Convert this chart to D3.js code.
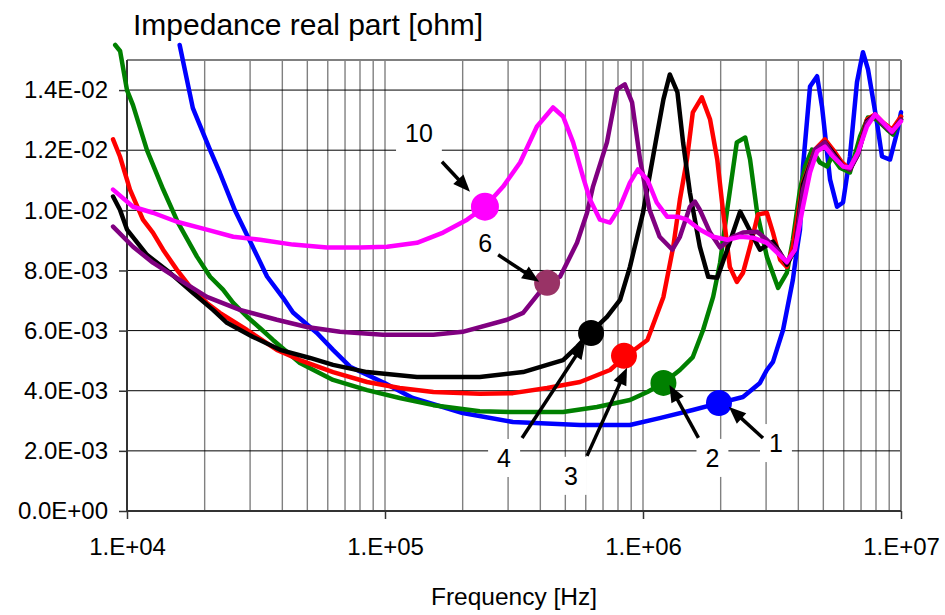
<!DOCTYPE html>
<html>
<head>
<meta charset="utf-8">
<script src="https://cdn.jsdelivr.net/npm/d3@7"></script>
<style>
  body { margin: 0; background: #fff; }
  svg { display: block; }
  text { font-family: "Liberation Sans", Arial, sans-serif; fill: #000; }
</style>
</head>
<body>
<svg id="chart" width="945" height="615"></svg>
<script>
// frequency [Hz], real part of impedance [ohm]
const curve1 = [
  [1.6e4, 15.5e-3], [1.8e4, 13.4e-3], [2.1e4, 12.0e-3], [2.29e4, 11.25e-3], [2.62e4, 10.0e-3],
  [2.95e4, 9.1e-3], [3.49e4, 7.8e-3], [4.02e4, 7.1e-3], [4.4e4, 6.6e-3], [5.45e4, 5.92e-3],
  [6.29e4, 5.36e-3], [7.32e4, 4.8e-3], [1.0e5, 4.25e-3], [1.28e5, 3.76e-3], [2.0e5, 3.26e-3],
  [3.13e5, 2.96e-3], [5.7e5, 2.86e-3], [8.9e5, 2.86e-3], [1.16e6, 3.09e-3], [1.56e6, 3.36e-3],
  [1.97e6, 3.59e-3], [2.44e6, 3.79e-3], [2.84e6, 4.26e-3], [3.02e6, 4.69e-3], [3.19e6, 4.96e-3],
  [3.49e6, 6.02e-3], [3.81e6, 7.69e-3], [3.95e6, 8.69e-3], [4.06e6, 9.36e-3], [4.17e6, 11.46e-3],
  [4.44e6, 14.12e-3], [4.73e6, 14.46e-3], [4.94e6, 13.46e-3], [5.31e6, 11.02e-3], [5.65e6, 10.12e-3],
  [5.96e6, 10.26e-3], [6.34e6, 11.79e-3], [6.75e6, 14.26e-3], [7.12e6, 15.26e-3], [7.45e6, 14.69e-3],
  [8.07e6, 12.92e-3], [8.44e6, 11.79e-3], [9.07e6, 11.69e-3], [9.65e6, 12.59e-3], [1.0e7, 13.26e-3]
];

const curve2 = [
  [9.0e3, 15.5e-3], [9.4e3, 15.3e-3], [1.0e4, 14.0e-3], [1.055e4, 13.5e-3], [1.195e4, 12.0e-3],
  [1.38e4, 10.7e-3], [1.576e4, 9.59e-3], [1.867e4, 8.46e-3], [2.1e4, 7.79e-3], [2.356e4, 7.36e-3],
  [2.58e4, 6.92e-3], [2.92e4, 6.46e-3], [3.34e4, 6.02e-3], [3.68e4, 5.69e-3], [4.68e4, 4.92e-3],
  [6.29e4, 4.36e-3], [8.52e4, 4.02e-3], [1.14e5, 3.76e-3], [1.54e5, 3.52e-3], [2.33e5, 3.32e-3],
  [3.13e5, 3.29e-3], [4.9e5, 3.29e-3], [6.63e5, 3.46e-3], [8.9e5, 3.69e-3], [1.04e6, 3.96e-3],
  [1.2e6, 4.26e-3], [1.39e6, 4.69e-3], [1.56e6, 5.12e-3], [1.71e6, 6.02e-3], [1.87e6, 7.12e-3],
  [1.99e6, 8.26e-3], [2.12e6, 10.02e-3], [2.31e6, 12.26e-3], [2.49e6, 12.42e-3], [2.6e6, 11.69e-3],
  [2.77e6, 9.92e-3], [3.02e6, 8.46e-3], [3.34e6, 7.42e-3], [3.61e6, 7.92e-3], [3.81e6, 9.02e-3],
  [4.06e6, 10.69e-3], [4.25e6, 11.46e-3], [4.52e6, 12.02e-3], [4.85e6, 11.59e-3], [5.17e6, 11.46e-3],
  [5.4e6, 11.79e-3], [5.8e6, 11.42e-3], [6.34e6, 11.26e-3], [6.94e6, 12.46e-3], [7.45e6, 13.09e-3],
  [8.07e6, 13.02e-3], [8.83e6, 12.69e-3], [9.31e6, 12.52e-3], [1.0e7, 13.12e-3]
];

const curve3 = [
  [8.83e3, 12.36e-3], [9.39e3, 11.79e-3], [1.027e4, 10.69e-3], [1.153e4, 9.69e-3], [1.26e4, 9.26e-3],
  [1.38e4, 8.69e-3], [1.562e4, 8.02e-3], [1.754e4, 7.46e-3], [2.04e4, 6.92e-3], [2.29e4, 6.59e-3],
  [2.92e4, 6.02e-3], [3.81e4, 5.36e-3], [4.68e4, 5.02e-3], [6.29e4, 4.62e-3], [8.52e4, 4.29e-3],
  [1.14e5, 4.09e-3], [1.54e5, 3.96e-3], [2.33e5, 3.9e-3], [3.13e5, 3.92e-3], [4.25e5, 4.09e-3],
  [5.7e5, 4.29e-3], [7.45e5, 4.69e-3], [8.5e5, 5.12e-3], [1.04e6, 5.69e-3], [1.2e6, 7.12e-3],
  [1.31e6, 8.79e-3], [1.39e6, 10.36e-3], [1.48e6, 11.69e-3], [1.56e6, 13.26e-3], [1.69e6, 13.76e-3],
  [1.82e6, 13.02e-3], [1.94e6, 11.69e-3], [2.04e6, 10.02e-3], [2.17e6, 8.12e-3], [2.31e6, 7.62e-3],
  [2.44e6, 7.92e-3], [2.6e6, 8.79e-3], [2.79e6, 9.86e-3], [3.02e6, 9.92e-3], [3.19e6, 9.26e-3],
  [3.4e6, 8.36e-3], [3.61e6, 8.12e-3], [3.81e6, 8.79e-3], [4.17e6, 10.92e-3], [4.64e6, 12.02e-3],
  [5.07e6, 12.36e-3], [5.45e6, 12.02e-3], [5.91e6, 11.59e-3], [6.34e6, 11.36e-3], [6.81e6, 11.92e-3],
  [7.38e6, 13.02e-3], [7.93e6, 13.19e-3], [8.52e6, 12.92e-3], [9.23e6, 12.69e-3], [1.0e7, 13.12e-3]
];

const curve4 = [
  [8.83e3, 10.46e-3], [9.39e3, 10.02e-3], [1.0e4, 9.36e-3], [1.195e4, 8.52e-3], [1.468e4, 7.92e-3],
  [1.8e4, 7.26e-3], [2.154e4, 6.69e-3], [2.44e4, 6.26e-3], [3.08e4, 5.79e-3], [3.92e4, 5.36e-3],
  [5.12e4, 5.09e-3], [6.29e4, 4.86e-3], [8.52e4, 4.62e-3], [1.33e5, 4.46e-3], [2.33e5, 4.46e-3],
  [3.43e5, 4.62e-3], [4.25e5, 4.86e-3], [4.9e5, 5.02e-3], [5.55e5, 5.46e-3], [6.23e5, 5.92e-3],
  [7.25e5, 6.46e-3], [8.15e5, 7.02e-3], [8.9e5, 8.12e-3], [1.0e6, 9.92e-3], [1.13e6, 12.46e-3],
  [1.2e6, 13.69e-3], [1.27e6, 14.52e-3], [1.36e6, 13.92e-3], [1.43e6, 12.26e-3], [1.52e6, 10.59e-3],
  [1.66e6, 8.79e-3], [1.79e6, 7.79e-3], [1.94e6, 7.76e-3], [2.12e6, 8.69e-3], [2.38e6, 9.96e-3],
  [2.67e6, 9.12e-3], [2.84e6, 8.69e-3], [3.19e6, 8.96e-3], [3.4e6, 8.59e-3], [3.61e6, 8.19e-3],
  [3.88e6, 8.69e-3], [4.17e6, 10.86e-3], [4.64e6, 11.96e-3], [5.07e6, 12.26e-3], [5.45e6, 11.92e-3],
  [5.96e6, 11.46e-3], [6.34e6, 11.36e-3], [6.81e6, 11.86e-3], [7.38e6, 12.96e-3], [7.93e6, 13.16e-3],
  [8.52e6, 12.86e-3], [9.23e6, 12.59e-3], [1.0e7, 13.02e-3]
];

const curve6 = [
  [8.83e3, 9.46e-3], [1.055e4, 8.79e-3], [1.26e4, 8.26e-3], [1.6e4, 7.69e-3], [2.04e4, 7.12e-3],
  [2.74e4, 6.69e-3], [3.81e4, 6.36e-3], [4.98e4, 6.12e-3], [6.69e4, 5.96e-3], [9.82e4, 5.86e-3],
  [1.54e5, 5.86e-3], [2.0e5, 5.96e-3], [2.97e5, 6.36e-3], [3.43e5, 6.59e-3], [4.25e5, 7.59e-3],
  [4.77e5, 7.79e-3], [5.55e5, 8.92e-3], [6.07e5, 9.92e-3], [6.4e5, 10.79e-3], [7.25e5, 12.26e-3],
  [7.93e5, 14.02e-3], [8.5e5, 14.19e-3], [9.07e5, 13.59e-3], [9.74e5, 11.69e-3], [1.06e6, 10.02e-3],
  [1.16e6, 9.12e-3], [1.3e6, 8.69e-3], [1.39e6, 9.12e-3], [1.52e6, 10.12e-3], [1.59e6, 10.29e-3],
  [1.66e6, 10.02e-3], [1.82e6, 9.26e-3], [1.99e6, 8.76e-3], [2.23e6, 9.12e-3], [2.44e6, 9.26e-3],
  [2.77e6, 9.29e-3], [3.02e6, 9.02e-3], [3.31e6, 8.69e-3], [3.61e6, 8.26e-3], [3.88e6, 8.69e-3],
  [4.17e6, 10.69e-3], [4.64e6, 12.02e-3], [5.07e6, 12.26e-3], [5.45e6, 11.86e-3], [5.96e6, 11.46e-3],
  [6.34e6, 11.36e-3], [6.81e6, 11.86e-3], [7.38e6, 12.92e-3], [7.93e6, 13.16e-3], [8.52e6, 12.86e-3],
  [9.23e6, 12.59e-3], [1.0e7, 13.02e-3]
];

const curve10 = [
  [8.83e3, 10.69e-3], [1.055e4, 10.12e-3], [1.26e4, 9.92e-3], [1.56e4, 9.62e-3], [2.04e4, 9.36e-3],
  [2.58e4, 9.12e-3], [3.28e4, 9.02e-3], [4.4e4, 8.86e-3], [5.96e4, 8.76e-3], [8.0e4, 8.76e-3],
  [1.02e5, 8.79e-3], [1.33e5, 8.92e-3], [1.68e5, 9.26e-3], [2.08e5, 9.69e-3], [2.44e5, 10.12e-3],
  [2.87e5, 10.79e-3], [3.34e5, 11.59e-3], [3.88e5, 12.79e-3], [4.48e5, 13.42e-3], [4.9e5, 13.12e-3],
  [5.36e5, 12.26e-3], [5.85e5, 11.12e-3], [6.23e5, 10.36e-3], [6.81e5, 9.69e-3], [7.45e5, 9.59e-3],
  [8.15e5, 10.12e-3], [8.9e5, 10.92e-3], [9.56e5, 11.36e-3], [1.04e6, 11.02e-3], [1.13e6, 10.26e-3],
  [1.24e6, 9.79e-3], [1.36e6, 9.79e-3], [1.48e6, 9.69e-3], [1.66e6, 9.36e-3], [1.87e6, 9.12e-3],
  [2.12e6, 9.02e-3], [2.38e6, 9.12e-3], [2.67e6, 9.09e-3], [3.02e6, 8.92e-3], [3.31e6, 8.59e-3],
  [3.61e6, 8.29e-3], [3.88e6, 8.69e-3], [4.17e6, 10.12e-3], [4.44e6, 11.26e-3], [4.73e6, 11.96e-3],
  [5.07e6, 12.12e-3], [5.45e6, 11.79e-3], [5.96e6, 11.46e-3], [6.34e6, 11.42e-3], [6.81e6, 11.92e-3],
  [7.38e6, 12.79e-3], [7.93e6, 13.19e-3], [8.52e6, 12.92e-3], [9.23e6, 12.62e-3], [1.0e7, 12.96e-3]
];

const seriesNames = ['1', '2', '3', '4', '6', '10'];
const seriesData = [curve1, curve2, curve3, curve4, curve6, curve10];
const seriesColors = ['#0000ff', '#008000', '#ff0000', '#000000', '#800080', '#ff00ff'];

// highlighted point on each curve
const markerFreq = [1.97e6, 1.2e6, 8.44e5, 6.29e5, 4.25e5, 2.44e5];
const markerValue = [3.59e-3, 4.26e-3, 5.16e-3, 5.92e-3, 7.59e-3, 10.12e-3];
const markerColors = ['#0000ff', '#008000', '#ff0000', '#000000', '#993366', '#ff00ff'];

const xTickValues = [1e4, 1e5, 1e6, 1e7];
const yTickValues = [0, 2e-3, 4e-3, 6e-3, 8e-3, 10e-3, 12e-3, 14e-3];

// label / arrow placement relative to the marker, in pixels
const callouts = [
  { label: [57, 49], from: [44, 35], to: [10, 4] },
  { label: [49, 84], from: [35, 55], to: [6, 2] },
  { label: [-53, 129], from: [-37, 100], to: [3, 12] },
  { label: [-87, 134], from: [-69, 105], to: [-6, 9] },
  { label: [-62, -31], from: [-49, -28], to: [-8, -1] },
  { label: [-66, -65], from: [-43, -45], to: [-15, -15] }
];

const svg = d3.select('#chart');

const x = d3.scaleLog().domain([1e4, 1e7]).range([127, 901]);
const y = d3.scaleLinear().domain([0, 0.015]).range([511, 60]);

const fmtY = (v) => {
  const [m, e] = v.toExponential(1).split('e');
  const n = Math.abs(+e);
  return m + 'E' + (+e < 0 ? '-' : '+') + (n < 10 ? '0' : '') + n;
};
const fmtX = (v) => '1.E+' + String(Math.round(Math.log10(v))).padStart(2, '0');

// vertical grid (log minor lines)
const vGrid = [];
[1e4, 1e5, 1e6].forEach((dec) => {
  for (let k = 1; k <= 9; k++) if (dec * k > 1e4) vGrid.push(dec * k);
});
svg.append('g')
  .selectAll('line')
  .data(vGrid)
  .join('line')
  .attr('x1', (d) => x(d)).attr('x2', (d) => x(d))
  .attr('y1', y(0.015)).attr('y2', y(0))
  .attr('stroke', '#808080')
  .attr('stroke-width', 1.4);

// horizontal grid
svg.append('g')
  .selectAll('line')
  .data(yTickValues.filter((d) => d > 0))
  .join('line')
  .attr('x1', x(1e4)).attr('x2', x(1e7))
  .attr('y1', (d) => y(d)).attr('y2', (d) => y(d))
  .attr('stroke', '#000')
  .attr('stroke-width', 1);

// frame: top and right in grey
svg.append('line').attr('x1', x(1e4)).attr('x2', x(1e7)).attr('y1', y(0.015)).attr('y2', y(0.015))
  .attr('stroke', '#808080').attr('stroke-width', 2);
svg.append('line').attr('x1', x(1e7)).attr('x2', x(1e7)).attr('y1', y(0.015)).attr('y2', y(0))
  .attr('stroke', '#808080').attr('stroke-width', 2);

// axes
const yAxis = d3.axisLeft(y).tickValues(yTickValues).tickFormat(fmtY).tickSize(8).tickPadding(11);
const gy = svg.append('g').attr('transform', `translate(${x(1e4)},0)`).call(yAxis);
gy.select('.domain').attr('d', `M0,${y(0.015)}V${y(0)}`).attr('stroke', '#333').attr('stroke-width', 2);
gy.selectAll('.tick line').attr('stroke', '#333').attr('stroke-width', 1.5);
gy.selectAll('.tick text').attr('font-size', 24).attr('font-family', '"Liberation Sans", Arial, sans-serif');

const xAxis = d3.axisBottom(x).tickValues(xTickValues).tickFormat(fmtX).tickSize(8).tickPadding(19);
const gx = svg.append('g').attr('transform', `translate(0,${y(0)})`).call(xAxis);
gx.select('.domain').attr('d', `M${x(1e4)},0H${x(1e7)}`).attr('stroke', '#333').attr('stroke-width', 2);
gx.selectAll('.tick line').attr('stroke', '#333').attr('stroke-width', 1.5);
gx.selectAll('.tick text').attr('font-size', 24).attr('font-family', '"Liberation Sans", Arial, sans-serif');

// curves
const line = d3.line().x((d) => x(d[0])).y((d) => y(d[1]));
svg.append('g')
  .selectAll('path')
  .data(seriesData)
  .join('path')
  .attr('d', line)
  .attr('fill', 'none')
  .attr('stroke', (d, i) => seriesColors[i])
  .attr('stroke-width', 4.5)
  .attr('stroke-linejoin', 'round')
  .attr('stroke-linecap', 'round');

// markers
const gm = svg.append('g');
seriesNames.forEach((name, i) => {
  gm.append('circle')
    .attr('cx', x(markerFreq[i]))
    .attr('cy', y(markerValue[i]))
    .attr('r', name === '10' ? 14 : 13)
    .attr('fill', markerColors[i]);
});

// callout labels with arrows
const gc = svg.append('g');
seriesNames.forEach((name, i) => {
  const cx = x(markerFreq[i]);
  const cy = y(markerValue[i]);
  const c = callouts[i];

  const t = gc.append('text')
    .attr('x', cx + c.label[0])
    .attr('y', cy + c.label[1])
    .attr('text-anchor', 'middle')
    .attr('font-size', 25)
    .text(name);
  const bb = t.node().getBBox();
  gc.insert('rect', () => t.node())
    .attr('x', bb.x - 9).attr('y', bb.y - 5)
    .attr('width', bb.width + 18).attr('height', bb.height + 10)
    .attr('fill', '#fff');

  const x0 = cx + c.from[0], y0 = cy + c.from[1];
  const x1 = cx + c.to[0], y1 = cy + c.to[1];
  const ang = Math.atan2(y1 - y0, x1 - x0);
  const headLen = 17, headW = 7;
  const bx = x1 - headLen * Math.cos(ang), by = y1 - headLen * Math.sin(ang);
  gc.append('line')
    .attr('x1', x0).attr('y1', y0)
    .attr('x2', bx + 2 * Math.cos(ang)).attr('y2', by + 2 * Math.sin(ang))
    .attr('stroke', '#000').attr('stroke-width', 3.5);
  const px = -Math.sin(ang), py = Math.cos(ang);
  gc.append('path')
    .attr('d', `M${x1},${y1}L${bx + px * headW},${by + py * headW}L${bx - px * headW},${by - py * headW}Z`)
    .attr('fill', '#000');
});

// titles
svg.append('text')
  .attr('x', 133).attr('y', 35)
  .attr('font-size', 30)
  .text('Impedance real part [ohm]');

svg.append('text')
  .attr('x', (x(1e4) + x(1e7)) / 2).attr('y', 605)
  .attr('text-anchor', 'middle')
  .attr('font-size', 24.5)
  .text('Frequency [Hz]');
</script>
</body>
</html>
